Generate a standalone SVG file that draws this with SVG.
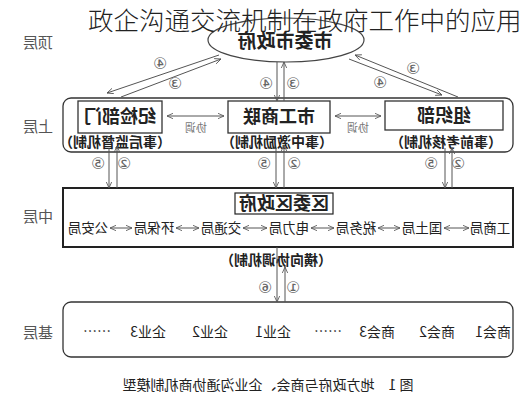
<svg xmlns="http://www.w3.org/2000/svg" width="527" height="400" viewBox="0 0 527 400">
<defs>
<style>
.t{font-family:"Noto Sans CJK SC","Noto Sans",sans-serif;text-anchor:middle;fill:#222}
.b{font-weight:bold}
.lbl{font-size:15px;fill:#555}
.num{font-size:16px;fill:#666;font-family:"DejaVu Sans","Noto Sans CJK SC",sans-serif}
.mech{font-size:14px;font-weight:bold;fill:#222}
.xt{font-size:11px;fill:#777}
.box{fill:none;stroke:#333;stroke-width:1.3}
.ln{fill:none;stroke:#555;stroke-width:1}
</style>
<marker id="ah" viewBox="0 0 10 10" refX="9" refY="5" markerWidth="7" markerHeight="7" orient="auto-start-reverse">
<path d="M0,1 L9,5 L0,9" fill="none" stroke="#555" stroke-width="1.2"/>
</marker>
</defs>
<rect width="527" height="400" fill="#fff"/>

<!-- level labels -->
<g id="levels">
<text class="t lbl" x="38" y="48" transform="matrix(-1 0 0 1 76 0)">顶层</text>
<text class="t lbl" x="38" y="132" transform="matrix(-1 0 0 1 76 0)">上层</text>
<text class="t lbl" x="38" y="222" transform="matrix(-1 0 0 1 76 0)">中层</text>
<text class="t lbl" x="38" y="338" transform="matrix(-1 0 0 1 76 0)">基层</text>
</g>

<!-- top node -->
<g id="top">
<ellipse cx="286" cy="40" rx="78" ry="22" fill="#fff" stroke="#444" stroke-width="1.2"/>
<text class="t b" x="285" y="48" font-size="19" transform="matrix(-1 0 0 1 570 0)">市委市政府</text>
</g>

<!-- upper layer -->
<g id="upper">
<rect class="box" x="63" y="98" width="450" height="54" rx="8"/>
</g>
<g id="jijian">
<rect class="box" x="78" y="101" width="84" height="32" fill="#fff"/>
<text class="t b" x="120" y="123" font-size="18" transform="matrix(-1 0 0 1 240 0)">纪检部门</text>
<text class="t mech" x="115" y="147" transform="matrix(-1 0 0 1 230 0)">（事后监督机制）</text>
</g>
<g id="gongshanglian">
<rect class="box" x="228" y="101" width="102" height="32" fill="#fff"/>
<text class="t b" x="279" y="123" font-size="18" transform="matrix(-1 0 0 1 558 0)">市工商联</text>
<text class="t mech" x="277" y="147" transform="matrix(-1 0 0 1 554 0)">（事中激励机制）</text>
</g>
<g id="zuzhibu">
<rect class="box" x="385" y="101" width="118" height="29" fill="#fff"/>
<text class="t b" x="444" y="122" font-size="18" transform="matrix(-1 0 0 1 888 0)">组织部</text>
<text class="t mech" x="446" y="147" transform="matrix(-1 0 0 1 892 0)">（事前考核机制）</text>
</g>

<!-- middle layer -->
<g id="middle">
<rect x="63" y="188" width="450" height="59" fill="none" stroke="#222" stroke-width="2"/>
<rect x="235" y="193" width="98" height="21" fill="none" stroke="#222" stroke-width="1.2"/>
<text class="t b" x="284" y="210" font-size="18" transform="matrix(-1 0 0 1 568 0)">区委区政府</text>
<g font-size="13.5">
<text class="t" x="88" y="233" transform="matrix(-1 0 0 1 176 0)">公安局</text>
<text class="t" x="154" y="233" transform="matrix(-1 0 0 1 308 0)">环保局</text>
<text class="t" x="221" y="233" transform="matrix(-1 0 0 1 442 0)">交通局</text>
<text class="t" x="289" y="233" transform="matrix(-1 0 0 1 578 0)">电力局</text>
<text class="t" x="356" y="233" transform="matrix(-1 0 0 1 712 0)">税务局</text>
<text class="t" x="422" y="233" transform="matrix(-1 0 0 1 844 0)">国土局</text>
<text class="t" x="490" y="233" transform="matrix(-1 0 0 1 980 0)">工商局</text>
</g>
<text class="t mech" x="276" y="265" transform="matrix(-1 0 0 1 552 0)">（横向协调机制）</text>
</g>

<!-- base layer -->
<g id="base">
<rect class="box" x="63" y="302" width="450" height="55" rx="8"/>
<g font-size="14">
<text class="t" x="97" y="336" transform="matrix(-1 0 0 1 194 0)">……</text>
<text class="t" x="148" y="337" transform="matrix(-1 0 0 1 296 0)">企业3</text>
<text class="t" x="210" y="337" transform="matrix(-1 0 0 1 420 0)">企业2</text>
<text class="t" x="273" y="337" transform="matrix(-1 0 0 1 546 0)">企业1</text>
<text class="t" x="328" y="336" transform="matrix(-1 0 0 1 656 0)">……</text>
<text class="t" x="377" y="337" transform="matrix(-1 0 0 1 754 0)">商会3</text>
<text class="t" x="437" y="337" transform="matrix(-1 0 0 1 874 0)">商会2</text>
<text class="t" x="493" y="337" transform="matrix(-1 0 0 1 986 0)">商会1</text>
</g>
</g>

<!-- connectors -->
<g id="connectors">
<line class="ln" x1="219" y1="55" x2="107" y2="93" marker-end="url(#ah)"/>
<line class="ln" x1="121" y1="97" x2="221" y2="59" marker-end="url(#ah)"/>
<line class="ln" x1="458" y1="97" x2="355" y2="55" marker-end="url(#ah)"/>
<line class="ln" x1="349" y1="59" x2="442" y2="95" marker-end="url(#ah)"/>
<line class="ln" x1="277" y1="62" x2="277" y2="101" marker-end="url(#ah)"/>
<line class="ln" x1="284" y1="101" x2="284" y2="62" marker-end="url(#ah)"/>

<line class="ln" x1="109" y1="148" x2="109" y2="188" marker-end="url(#ah)"/>
<line class="ln" x1="117" y1="188" x2="117" y2="146" marker-end="url(#ah)"/>
<line class="ln" x1="276" y1="148" x2="276" y2="188" marker-end="url(#ah)"/>
<line class="ln" x1="284" y1="188" x2="284" y2="145" marker-end="url(#ah)"/>
<line class="ln" x1="445" y1="148" x2="445" y2="188" marker-end="url(#ah)"/>
<line class="ln" x1="452" y1="188" x2="452" y2="148" marker-end="url(#ah)"/>

<line class="ln" x1="277" y1="247" x2="277" y2="302" marker-end="url(#ah)"/>
<line class="ln" x1="285" y1="302" x2="285" y2="267" marker-end="url(#ah)"/>

<line class="ln" x1="167" y1="116" x2="224" y2="116" marker-start="url(#ah)" marker-end="url(#ah)"/>
<line class="ln" x1="335" y1="116" x2="381" y2="116" marker-start="url(#ah)" marker-end="url(#ah)"/>
<text class="t xt" x="196" y="132" transform="matrix(-1 0 0 1 392 0)">协调</text>
<text class="t xt" x="358" y="132" transform="matrix(-1 0 0 1 716 0)">协调</text>

<g stroke-width="0.8">
<line class="ln" x1="110" y1="228" x2="132" y2="228" marker-start="url(#ah)" marker-end="url(#ah)"/>
<line class="ln" x1="176" y1="228" x2="199" y2="228" marker-start="url(#ah)" marker-end="url(#ah)"/>
<line class="ln" x1="243" y1="228" x2="267" y2="228" marker-start="url(#ah)" marker-end="url(#ah)"/>
<line class="ln" x1="311" y1="228" x2="334" y2="228" marker-start="url(#ah)" marker-end="url(#ah)"/>
<line class="ln" x1="378" y1="228" x2="400" y2="228" marker-start="url(#ah)" marker-end="url(#ah)"/>
<line class="ln" x1="444" y1="228" x2="469" y2="228" marker-start="url(#ah)" marker-end="url(#ah)"/>
</g>

<text class="t num" x="160" y="69" transform="matrix(-1 0 0 1 320 0)">④</text>
<text class="t num" x="175" y="89" transform="matrix(-1 0 0 1 350 0)">③</text>
<text class="t num" x="413" y="74" transform="matrix(-1 0 0 1 826 0)">③</text>
<text class="t num" x="380" y="88" transform="matrix(-1 0 0 1 760 0)">④</text>
<text class="t num" x="266" y="89" transform="matrix(-1 0 0 1 532 0)">④</text>
<text class="t num" x="293" y="89" transform="matrix(-1 0 0 1 586 0)">③</text>
<text class="t num" x="98" y="169" transform="matrix(-1 0 0 1 196 0)">⑤</text>
<text class="t num" x="124" y="169" transform="matrix(-1 0 0 1 248 0)">②</text>
<text class="t num" x="264" y="169" transform="matrix(-1 0 0 1 528 0)">⑤</text>
<text class="t num" x="294" y="169" transform="matrix(-1 0 0 1 588 0)">②</text>
<text class="t num" x="431" y="169" transform="matrix(-1 0 0 1 862 0)">⑤</text>
<text class="t num" x="458" y="169" transform="matrix(-1 0 0 1 916 0)">②</text>
<text class="t num" x="265" y="293" transform="matrix(-1 0 0 1 530 0)">⑥</text>
<text class="t num" x="293" y="293" transform="matrix(-1 0 0 1 586 0)">①</text>
</g>

<!-- caption -->
<text class="t" x="268" y="390" font-size="14" fill="#333" transform="matrix(-1 0 0 1 536 0)">图 1　地方政府与商会、企业沟通协商机制模型</text>

<!-- title -->
<text x="88" y="30" font-family="'Noto Sans CJK SC','Noto Sans',sans-serif" font-size="25.5" font-weight="300" fill="#222">政企沟通交流机制在政府工作中的应用</text>
</svg>
